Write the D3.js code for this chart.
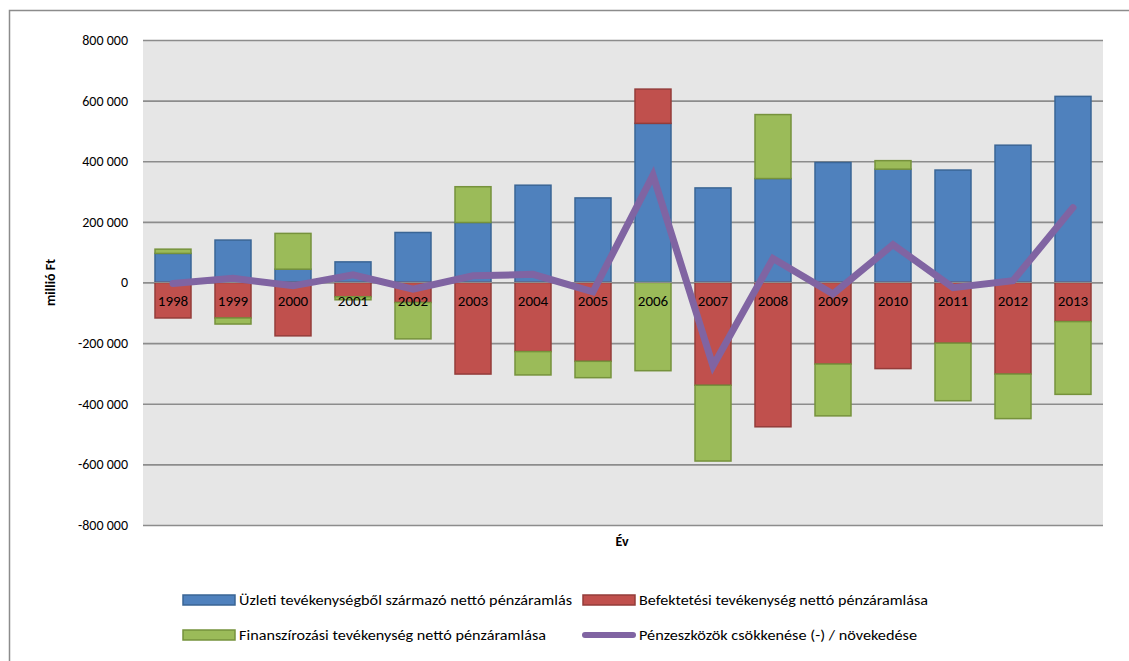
<!DOCTYPE html>
<html>
<head>
<meta charset="utf-8">
<script src="https://cdn.jsdelivr.net/npm/d3@7"></script>
<style>
  html, body { margin: 0; padding: 0; background: #fff; }
  svg { display: block; font-family: Carlito, Calibri, Lato, "Open Sans", sans-serif; }
</style>
</head>
<body>
<svg id="chart" width="1129" height="661"></svg>
<script>
// Years on the category axis
const years = ["1998","1999","2000","2001","2002","2003","2004","2005",
               "2006","2007","2008","2009","2010","2011","2012","2013"];

// Cash flow components, million HUF
const operating = [96000, 140000, 44000, 68000, 165000, 198000, 321000, 279000,
                   525000, 312000, 343000, 396000, 374000, 371000, 453000, 614000];
const investing = [-117000, -117000, -176000, -47000, -66000, -302000, -228000, -260000,
                   113000, -339000, -476000, -269000, -284000, -200000, -302000, -129000];
const financing = [14000, -20000, 118000, -10000, -120000, 118000, -77000, -54000,
                   -291000, -250000, 211000, -171000, 28000, -190000, -147000, -240000];

// Net change in cash and cash equivalents
const netChange = [-3000, 14000, -11000, 25000, -22000, 22000, 27000, -31000,
                   354000, -275000, 79000, -38000, 125000, -17000, 6000, 247000];

const yTicks = [-800000, -600000, -400000, -200000, 0, 200000, 400000, 600000, 800000];

const seriesNames = [
  "Üzleti tevékenységből származó nettó pénzáramlás",
  "Befektetési tevékenység nettó pénzáramlása",
  "Finanszírozási tevékenység nettó pénzáramlása",
  "Pénzeszközök csökkenése (-) / növekedése"
];

const barSeries = [
  { name: seriesNames[0], values: operating, fill: "#4F81BD", stroke: "#3A6595" },
  { name: seriesNames[1], values: investing, fill: "#C0504D", stroke: "#943C3A" },
  { name: seriesNames[2], values: financing, fill: "#9BBB59", stroke: "#76923C" }
];
const lineColor = "#8064A2";

const svg = d3.select("#chart");

// Outer chart frame
svg.append("rect")
  .attr("x", 9.5).attr("y", 10.5)
  .attr("width", 1300).attr("height", 800)
  .attr("fill", "none").attr("stroke", "#8C8C8C").attr("stroke-width", 1.5);

const plot = { left: 143, right: 1103, top: 40, bottom: 525 };

const x = d3.scaleBand()
  .domain(years)
  .range([plot.left, plot.right])
  .paddingInner(0.4)
  .paddingOuter(0.2);

const y = d3.scaleLinear()
  .domain([-800000, 800000])
  .range([plot.bottom, plot.top]);

// Plot background
svg.append("rect")
  .attr("x", plot.left).attr("y", plot.top)
  .attr("width", plot.right - plot.left).attr("height", plot.bottom - plot.top)
  .attr("fill", "#E6E6E6");

// Horizontal gridlines and value labels
const yAxis = d3.axisLeft(y)
  .tickValues(yTicks)
  .tickSize(-(plot.right - plot.left))
  .tickPadding(15)
  .tickFormat(d => d3.format(",")(d).replace(/,/g, " ").replace("−", "-"));

const gy = svg.append("g")
  .attr("transform", `translate(${plot.left},0)`)
  .call(yAxis);
gy.select(".domain").remove();
gy.selectAll(".tick line").attr("stroke", "#8C8C8C").attr("stroke-width", 1.6);
gy.selectAll(".tick text")
  .attr("fill", "#000")
  .style("font-size", "14px")
  .style("font-family", "Carlito, Calibri, Lato, sans-serif");

// Stacked bars: positives build upward, negatives build downward
const stacked = [];
years.forEach((yr, i) => {
  let pos = 0, neg = 0;
  barSeries.forEach(s => {
    const v = s.values[i];
    let y0, y1;
    if (v >= 0) { y0 = pos; y1 = pos + v; pos = y1; }
    else { y0 = neg; y1 = neg + v; neg = y1; }
    stacked.push({ year: yr, y0, y1, fill: s.fill, stroke: s.stroke });
  });
});

svg.append("g").selectAll("rect")
  .data(stacked)
  .join("rect")
  .attr("x", d => x(d.year))
  .attr("width", x.bandwidth())
  .attr("y", d => y(Math.max(d.y0, d.y1)))
  .attr("height", d => Math.abs(y(d.y0) - y(d.y1)))
  .attr("fill", d => d.fill)
  .attr("stroke", d => d.stroke)
  .attr("stroke-width", 1.5);

// Category labels sitting on the zero line
const gx = svg.append("g")
  .attr("transform", `translate(0,${y(0)})`)
  .call(d3.axisBottom(x).tickSize(0).tickPadding(13));
gx.select(".domain").attr("stroke", "#8C8C8C").attr("stroke-width", 1.2)
  .attr("d", `M${plot.left},0H${plot.right}`);
gx.selectAll(".tick text")
  .attr("fill", "#000")
  .style("font-size", "15px")
  .style("font-family", "Carlito, Calibri, Lato, sans-serif");

// Net change line
const line = d3.line()
  .x((d, i) => x(years[i]) + x.bandwidth() / 2)
  .y(d => y(d));

svg.append("path")
  .datum(netChange)
  .attr("d", line)
  .attr("fill", "none")
  .attr("stroke", lineColor)
  .attr("stroke-width", 7)
  .attr("stroke-linecap", "round")
  .attr("stroke-linejoin", "miter");

// Axis titles
svg.append("text")
  .attr("transform", `translate(55,${y(0)}) rotate(-90)`)
  .attr("text-anchor", "middle")
  .style("font-size", "14px").style("font-weight", "bold")
  .text("millió Ft");

svg.append("text")
  .attr("x", 622).attr("y", 546)
  .attr("text-anchor", "middle")
  .style("font-size", "14px").style("font-weight", "bold")
  .text("Év");

// Legend
const legendItems = [
  { name: seriesNames[0], type: "bar", fill: barSeries[0].fill, stroke: barSeries[0].stroke, x: 183, y: 600, w: 333 },
  { name: seriesNames[1], type: "bar", fill: barSeries[1].fill, stroke: barSeries[1].stroke, x: 583, y: 600, w: 289 },
  { name: seriesNames[2], type: "bar", fill: barSeries[2].fill, stroke: barSeries[2].stroke, x: 183, y: 635, w: 307 },
  { name: seriesNames[3], type: "line", fill: lineColor, stroke: lineColor, x: 583, y: 635, w: 278 }
];

const lg = svg.append("g").selectAll("g")
  .data(legendItems)
  .join("g")
  .attr("transform", d => `translate(${d.x},${d.y})`);

lg.filter(d => d.type === "bar").append("rect")
  .attr("x", 0).attr("y", -5).attr("width", 52).attr("height", 10)
  .attr("fill", d => d.fill).attr("stroke", d => d.stroke).attr("stroke-width", 1.5);

lg.filter(d => d.type === "line").append("line")
  .attr("x1", 2).attr("x2", 50).attr("y1", 0).attr("y2", 0)
  .attr("stroke", d => d.stroke).attr("stroke-width", 6).attr("stroke-linecap", "round");

lg.append("text")
  .attr("x", 56).attr("y", 0).attr("dy", "0.35em")
  .attr("textLength", d => d.w)
  .attr("lengthAdjust", "spacingAndGlyphs")
  .style("font-size", "14px")
  .text(d => d.name);
</script>
</body>
</html>
